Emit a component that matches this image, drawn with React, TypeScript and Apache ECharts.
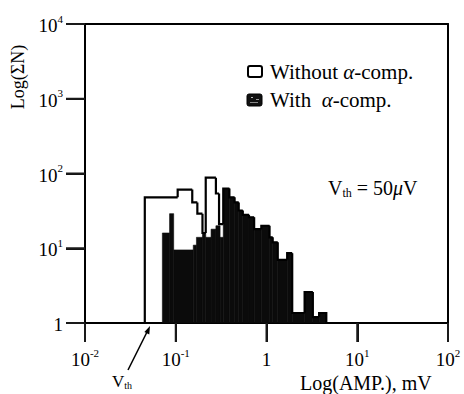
import React, { useEffect, useRef } from "react";
import * as echarts from "echarts";

// "With α-comp." filled histogram: bin edges (mV) and counts
const fillEdges = [0.0712, 0.0855, 0.0949, 0.156, 0.169, 0.197, 0.214, 0.245, 0.277, 0.308, 0.334, 0.39, 0.445, 0.494, 0.548, 0.641, 0.731, 0.877, 1.08, 1.17, 1.33, 1.69, 1.92, 2.63, 3.24, 3.8, 4.56];
const fillCounts = [16, 29, 9.5, 11, 14, 16, 14, 18, 20, 14, 63, 48, 41, 32, 28, 26, 18, 20, 14, 12, 7, 8.6, 1.36, 2.6, 1.2, 1.36];

// "Without α-comp." outline histogram
const outlineEdges = [0.0456, 0.105, 0.152, 0.173, 0.197, 0.214, 0.277, 0.3, 0.334, 0.39, 0.445, 0.494, 0.548, 0.641, 0.731, 0.877, 1.08, 1.17, 1.33, 1.69, 1.92, 2.63, 3.24, 3.8, 4.56];
const outlineCounts = [48, 61, 41, 29, 16, 88, 54, 21, 63, 48, 41, 32, 28, 26, 18, 20, 14, 12, 7, 8.6, 1.36, 2.6, 1.2, 1.36];

// axis ticks
const xTickValues = [0.01, 0.1, 1, 10, 100];
const yTickValues = [1, 10, 100, 1000, 10000];

const FONT = "Liberation Serif";
const TICK_LEN = 19;

function supLabel(value: number): string {
  const e = Math.round(Math.log10(value));
  if (e === 0) return "{b|1}";
  return `{b|10}{s|${e}}`;
}

export default function App() {
  const ref = useRef<HTMLDivElement>(null);
  useEffect(() => {
    if (!ref.current) return;
    const chart = echarts.init(ref.current, undefined, { renderer: "svg" });

    const base = yTickValues[0];
    const fillData = fillCounts.map((c, i) => [fillEdges[i], fillEdges[i + 1], c]);
    const outlineData = outlineCounts.map((c, i) => [
      outlineEdges[i],
      outlineEdges[i + 1],
      c,
      i === 0 ? base : outlineCounts[i - 1],
      i === outlineCounts.length - 1 ? 1 : 0,
    ]);

    const rich = {
      b: { fontFamily: FONT, fontSize: 19, color: "#000", lineHeight: 22, verticalAlign: "bottom" },
      s: { fontFamily: FONT, fontSize: 11, color: "#000", lineHeight: 22, verticalAlign: "top", padding: [0, 0, 9, 0] },
    };

    const option: any = {
      animation: false,
      grid: { left: 85, right: 16, top: 24, bottom: 71 },
      xAxis: [
        {
          type: "log",
          min: xTickValues[0],
          max: xTickValues[xTickValues.length - 1],
          axisLine: { show: true, lineStyle: { color: "#000", width: 2 } },
          axisTick: { show: true, length: TICK_LEN, lineStyle: { color: "#111", width: 2 } },
          splitLine: { show: false },
          axisLabel: { margin: 24, formatter: supLabel, rich },
        },
        {
          type: "log",
          position: "top",
          min: xTickValues[0],
          max: xTickValues[xTickValues.length - 1],
          axisLine: { show: true, lineStyle: { color: "#000", width: 2 } },
          axisTick: { show: false },
          axisLabel: { show: false },
          splitLine: { show: false },
        },
      ],
      yAxis: [
        {
          type: "log",
          min: yTickValues[0],
          max: yTickValues[yTickValues.length - 1],
          axisLine: { show: true, lineStyle: { color: "#000", width: 2 } },
          axisTick: { show: true, length: TICK_LEN, lineStyle: { color: "#111", width: 2 } },
          splitLine: { show: false },
          axisLabel: { margin: 22, formatter: supLabel, rich },
        },
        {
          type: "log",
          position: "right",
          min: yTickValues[0],
          max: yTickValues[yTickValues.length - 1],
          axisLine: { show: true, lineStyle: { color: "#000", width: 2 } },
          axisTick: { show: false },
          axisLabel: { show: false },
          splitLine: { show: false },
        },
      ],
      series: [
        {
          type: "custom",
          clip: true,
          data: fillData,
          encode: { x: [0, 1], y: 2 },
          renderItem: (params: any, api: any) => {
            const p0 = api.coord([api.value(0), api.value(2)]);
            const p1 = api.coord([api.value(1), base]);
            return {
              type: "rect",
              shape: { x: p0[0], y: p0[1], width: p1[0] - p0[0], height: p1[1] - p0[1] },
              style: { fill: "#0b0b0b", stroke: "#0b0b0b", lineWidth: 0.6 },
            };
          },
        },
        {
          type: "custom",
          clip: true,
          data: outlineData,
          encode: { x: [0, 1], y: 2 },
          renderItem: (params: any, api: any) => {
            const x0 = api.value(0);
            const x1 = api.value(1);
            const c = api.value(2);
            const prev = api.value(3);
            const last = api.value(4);
            const pts = [api.coord([x0, prev]), api.coord([x0, c]), api.coord([x1, c])];
            if (last) pts.push(api.coord([x1, base]));
            return {
              type: "polyline",
              shape: { points: pts },
              style: { stroke: "#000", lineWidth: 2.2, fill: null },
            };
          },
        },
        {
          type: "custom",
          clip: false,
          data: xTickValues.map((v) => [v, base]),
          renderItem: (params: any, api: any) => {
            const p = api.coord([api.value(0), api.value(1)]);
            return { type: "rect", shape: { x: p[0] - 1, y: p[1], width: 2, height: TICK_LEN }, style: { fill: "#1a1a1a" } };
          },
        },
        {
          type: "custom",
          clip: false,
          data: yTickValues.map((v) => [xTickValues[0], v]),
          renderItem: (params: any, api: any) => {
            const p = api.coord([api.value(0), api.value(1)]);
            return { type: "rect", shape: { x: p[0] - TICK_LEN, y: p[1] - 1, width: TICK_LEN, height: 2 }, style: { fill: "#1a1a1a" } };
          },
        },
      ],
      graphic: [
        {
          type: "text",
          x: 18,
          y: 77,
          rotation: Math.PI / 2,
          style: { text: "Log(ΣN)", font: `18px ${FONT}`, fill: "#000", align: "center", verticalAlign: "middle" },
        },
        {
          type: "text",
          x: 300,
          y: 383,
          style: { text: "Log(AMP.), mV", font: `20px ${FONT}`, fill: "#000", align: "left", verticalAlign: "middle" },
        },
        {
          type: "text",
          x: 112,
          y: 381,
          style: {
            text: "{v|V}{t|th}",
            align: "left",
            verticalAlign: "middle",
            rich: {
              v: { fontFamily: FONT, fontSize: 17, color: "#000", lineHeight: 18 },
              t: { fontFamily: FONT, fontSize: 10, color: "#000", lineHeight: 18, verticalAlign: "bottom", padding: [5, 0, 0, 0] },
            },
          },
        },
        { type: "line", shape: { x1: 128, y1: 370, x2: 147, y2: 332 }, style: { stroke: "#000", lineWidth: 1.6 } },
        { type: "polygon", shape: { points: [[150, 326], [149.3, 334.5], [144.4, 332]] }, style: { fill: "#000" } },
        { type: "rect", shape: { x: 248, y: 66, width: 14, height: 11, r: 2 }, style: { fill: "#fff", stroke: "#000", lineWidth: 2 } },
        {
          type: "text",
          x: 270,
          y: 72,
          style: {
            text: "{n|Without }{a|α}{n|-comp.}",
            align: "left",
            verticalAlign: "middle",
            rich: {
              n: { fontFamily: FONT, fontSize: 21, color: "#000" },
              a: { fontFamily: FONT, fontSize: 21, fontStyle: "italic", color: "#000" },
            },
          },
        },
        { type: "rect", shape: { x: 247, y: 94, width: 15, height: 12, r: 2 }, style: { fill: "#111", stroke: "#000", lineWidth: 1 } },
        { type: "rect", shape: { x: 251, y: 97, width: 2, height: 1 }, style: { fill: "#bbb" } },
        { type: "rect", shape: { x: 256, y: 99, width: 3, height: 1 }, style: { fill: "#999" } },
        { type: "rect", shape: { x: 250, y: 102, width: 8, height: 1 }, style: { fill: "#888" } },
        {
          type: "text",
          x: 270,
          y: 100,
          style: {
            text: "{n|With  }{a|α}{n|-comp.}",
            align: "left",
            verticalAlign: "middle",
            rich: {
              n: { fontFamily: FONT, fontSize: 21, color: "#000" },
              a: { fontFamily: FONT, fontSize: 21, fontStyle: "italic", color: "#000" },
            },
          },
        },
        {
          type: "text",
          x: 328,
          y: 188,
          style: {
            text: "{v|V}{t|th}{n| = 50}{m|μ}{n|V}",
            align: "left",
            verticalAlign: "middle",
            rich: {
              v: { fontFamily: FONT, fontSize: 20, color: "#000", lineHeight: 22 },
              t: { fontFamily: FONT, fontSize: 12, color: "#000", lineHeight: 22, verticalAlign: "bottom", padding: [7, 0, 0, 0] },
              n: { fontFamily: FONT, fontSize: 20, color: "#000", lineHeight: 22 },
              m: { fontFamily: FONT, fontSize: 20, fontStyle: "italic", color: "#000", lineHeight: 22 },
            },
          },
        },
      ],
    };
    chart.setOption(option);
    return () => chart.dispose();
  }, []);
  return <div ref={ref} style={{ width: 464, height: 394, position: "absolute", left: 0, top: 0 }} />;
}
